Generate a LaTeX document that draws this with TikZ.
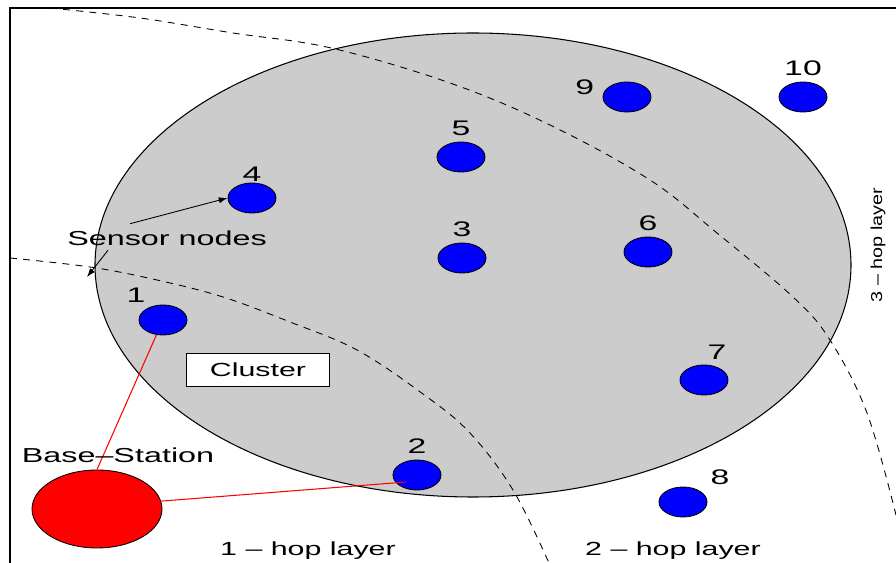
\documentclass[tikz,border=0pt]{standalone}
\usepackage{fontspec}
\setmainfont{Liberation Sans}
\newfontfamily\widesans{Liberation Sans}[FakeStretch=1.6]
\newfontfamily\sidesans{Liberation Sans}[FakeStretch=1.25]
\usetikzlibrary{shapes.geometric,arrows.meta}

\begin{document}
\begin{tikzpicture}[x=0.02cm, y=0.02cm]
    \tikzstyle{every node}+=[inner sep=0pt]
    \tikzstyle{sensor}=[ellipse, draw=black, fill=blue, line width=0.5pt, minimum width=0.96cm, minimum height=0.6cm]
    \tikzstyle{num}=[font=\widesans\fontsize{12}{12}\selectfont, label distance=0.12cm]
    \tikzstyle{txt}=[font=\widesans\fontsize{10.8}{12}\selectfont]
    \tikzstyle{hop}=[black, dash pattern=on 4pt off 3.5pt, line width=0.5pt]
    \tikzstyle{link}=[red, line width=0.6pt]
    \tikzstyle{ptr}=[black, line width=0.5pt, -{Latex[length=5pt,width=3.5pt]}]
    \useasboundingbox (0,0) rectangle (896,-563);
    % frame
    \draw [black, line width=0.8pt] (10,-563) -- (10,-8) -- (896,-8);
    % cluster
    \draw [black, fill=black!20, line width=0.6pt] (473,-265) ellipse (378 and 232);
    % layer borders
    \draw [hop] plot [smooth, tension=0.6] coordinates {(50,-8) (140,-18) (233,-33) (331,-48) (450,-83) (550,-125) (650,-180) (717,-233) (793,-297) (830,-340) (867,-413) (896,-515)};
    \draw [hop] plot [smooth, tension=0.6] coordinates {(10,-258) (90,-267) (157,-280) (223,-297) (290,-322) (357,-350) (423,-394) (470,-433) (513,-490) (549,-563)};
    % sensors
    \node [sensor, label={[num]above left:1}] (n1) at (163,-320) {};
    \node [sensor, label={[num]above:2}] (n2) at (417,-475) {};
    \node [sensor, label={[num]above:3}] (n3) at (462,-258) {};
    \node [sensor, label={[num,label distance=0.02cm]above:4}] (n4) at (252,-198) {};
    \node [sensor, label={[num]above:5}] (n5) at (461,-157) {};
    \node [sensor, label={[num]above:6}] (n6) at (648,-252) {};
    \node [sensor, label={[num,xshift=0.26cm,label distance=0.1cm]above:7}] (n7) at (704,-380) {};
    \node [sensor, label={[num,xshift=0.2cm]above right:8}] (n8) at (683,-502) {};
    \node [sensor, label={[num,yshift=0.2cm,label distance=0.16cm]left:9}] (n9) at (627,-97) {};
    \node [sensor, label={[num]above:10}] (n10) at (803,-97) {};
    % base station
    \node [ellipse, draw=black, fill=red, line width=0.5pt, minimum width=2.6cm, minimum height=1.56cm] (bs) at (97,-509) {};
    \draw [link] (n1) -- (bs.north);
    \draw [link] ([xshift=-0.22cm,yshift=-0.14cm]n2.center) -- (bs.7);
    % texts
    \node [txt, font=\widesans\fontsize{11.5}{12}\selectfont] (bslab) at (118,-455) {Base–Station};
    \node [draw=black, fill=white, line width=0.5pt, txt, minimum width=2.86cm, minimum height=0.66cm] (clus) at (258,-370) {Cluster};
    \node [txt, font=\widesans\fontsize{11.5}{12}\selectfont] (sen) at (167,-238) {Sensor nodes};
    \coordinate (edge) at (87,-277);
    \draw [ptr] ([xshift=-0.74cm,yshift=0.13cm]sen.north) -- (n4.west);
    \draw [ptr] ([xshift=-1.18cm,yshift=-0.09cm]sen.south) -- (edge);
    \node [txt] (hop1) at (308,-551) {1 – hop layer};
    \node [txt] (hop2) at (673,-551) {2 – hop layer};
    \node [font=\sidesans\fontsize{9}{10}\selectfont, rotate=90] (hop3) at (878,-245) {3 – hop layer};
\end{tikzpicture}
\end{document}
